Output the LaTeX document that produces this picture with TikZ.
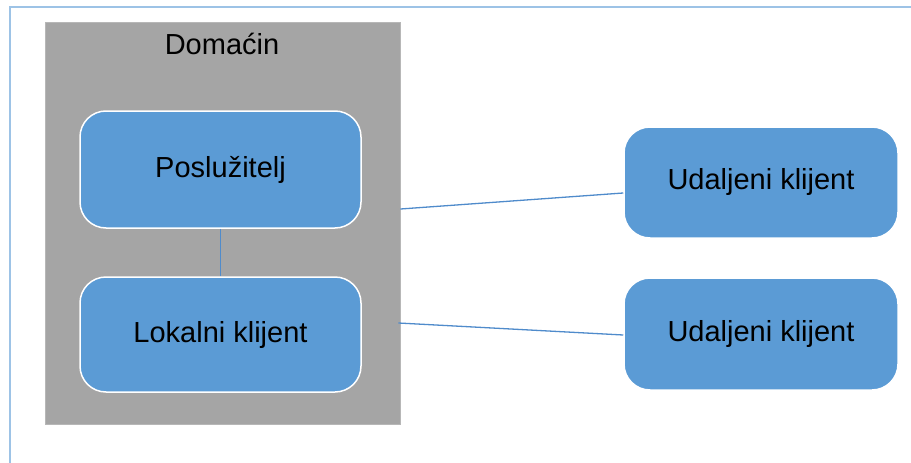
\documentclass[tikz,border=0pt]{standalone}
\usepackage{fontspec}
\setmainfont{Liberation Sans}
\usepackage{xcolor}
\usepackage{tikz}
\usetikzlibrary{positioning}
\definecolor{boxblue}{HTML}{5B9BD5}
\definecolor{hostgray}{HTML}{A5A5A5}
\definecolor{framecol}{HTML}{9DC3E6}
\definecolor{linkcol}{HTML}{4F8BCB}

\begin{document}
\begin{tikzpicture}[x=1pt,y=-1pt,
  hostbox/.style={draw=hostgray!80!white,fill=hostgray,line width=0.8pt,
    minimum width=355pt,minimum height=402pt,inner sep=0pt},
  appbox/.style={draw=white,fill=boxblue,line width=1.5pt,rounded corners=26pt,
    minimum height=115pt,inner sep=0pt,font=\fontsize{29}{34}\selectfont},
  link/.style={draw=linkcol,line width=1.3pt}]
\useasboundingbox (0,0) rectangle (911,463);
%%frame round the page, only top and left show
\draw[framecol,line width=2pt] (9.5,463) -- (9.5,6.5) -- (911,6.5);
%%the host with its two parts
\node[hostbox] (host) at (222.5,223) {};
\node[anchor=base,font=\fontsize{29}{34}\selectfont] (hostlabel) at (222,54) {Domaćin};
\node[appbox,minimum width=281pt,minimum height=117pt] (srv) at (220.5,169.5) {Poslužitelj};
\node[appbox,minimum width=281pt] (lok) at (220.5,334.5) {Lokalni klijent};
%%remote clients
\node[appbox,minimum width=274pt,minimum height=111pt] (rk1) at (761,182.5) {Udaljeni klijent};
\node[appbox,minimum width=274pt,minimum height=112pt] (rk2) at (761,334) {Udaljeni klijent};
%%connections
\draw[link] (srv.south) -- (lok.north);
\draw[link] ([yshift=14pt]host.east) -- ([yshift=-10.5pt]rk1.west);
\draw[link] ([yshift=-100pt,xshift=-2pt]host.east) -- ([yshift=-1pt]rk2.west);
\end{tikzpicture}
\end{document}
